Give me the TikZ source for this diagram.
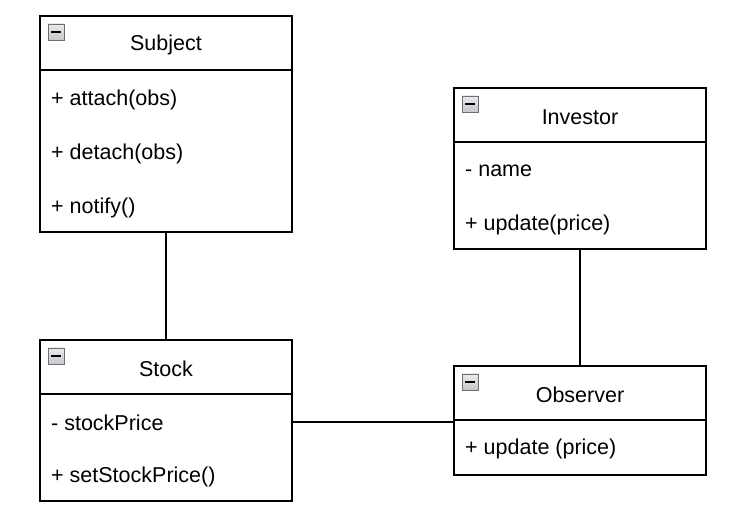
\documentclass[tikz,border=0pt]{standalone}
\usepackage{fontspec}
\setmainfont{Liberation Sans}
\usepackage{tikz}
\usetikzlibrary{positioning, shadings}
\definecolor{iconfill}{RGB}{200, 200, 204}
\definecolor{iconedge}{RGB}{110, 110, 118}

\tikzset{
  classhead/.style={draw, line width=1.8pt, minimum width=252pt, minimum height=54pt,
                    inner sep=0pt},
  classbody/.style={draw, line width=1.8pt, minimum width=252pt, inner sep=0pt},
  classname/.style={inner sep=0pt, yshift=-2pt, font=\fontsize{21.5}{25}\selectfont},
  member/.style={anchor=west, inner sep=0pt, yshift=-3pt, font=\fontsize{21.5}{25}\selectfont},
  minusicon/.style={draw=iconedge, line width=0.8pt, minimum size=16pt, inner sep=0pt,
                    top color=iconfill!40, bottom color=iconfill,
                    path picture={\draw[line width=2pt, black]
                      ([xshift=3pt]path picture bounding box.west) --
                      ([xshift=-3pt]path picture bounding box.east);}},
  link/.style={line width=1.8pt}
}

\begin{document}
\begin{tikzpicture}[x=1pt, y=-1pt]
  \useasboundingbox[fill=white] (0, 0) rectangle (736, 510);

  % Subject
  \node[classhead] (subjectHead) at (166, 43) {};
  \node[classname] (subjectName) at (subjectHead) {Subject};
  \node[classbody, minimum height=162pt] (subjectBody) at (166, 151) {};
  \node[minusicon] (subjectIcon) at (56, 32) {};
  \node[member] (subjectAttach) at (51, 97) {+ attach(obs)};
  \node[member] (subjectDetach) at (51, 151) {+ detach(obs)};
  \node[member] (subjectNotify) at (51, 205) {+ notify()};

  % Investor
  \node[classhead] (investorHead) at (580, 115) {};
  \node[classname] (investorName) at (investorHead) {Investor};
  \node[classbody, minimum height=107pt] (investorBody) at (580, 195.5) {};
  \node[minusicon] (investorIcon) at (470, 104) {};
  \node[member] (investorField) at (465, 168) {- name};
  \node[member] (investorUpdate) at (465, 222) {+ update(price)};

  % Stock
  \node[classhead] (stockHead) at (166, 367) {};
  \node[classname] (stockName) at (stockHead) {Stock};
  \node[classbody, minimum height=107pt] (stockBody) at (166, 447.5) {};
  \node[minusicon] (stockIcon) at (56, 356) {};
  \node[member] (stockPrice) at (51, 420) {- stockPrice};
  \node[member] (stockSet) at (51, 474) {+ setStockPrice()};

  % Observer
  \node[classhead] (observerHead) at (580, 393) {};
  \node[classname] (observerName) at (observerHead) {Observer};
  \node[classbody, minimum height=55pt] (observerBody) at (580, 447.5) {};
  \node[minusicon] (observerIcon) at (470, 382) {};
  \node[member] (observerUpdate) at (465, 446) {+ update (price)};

  % links
  \coordinate (obsJoin) at ([yshift=-3pt]observerBody.north west);
  \draw[link] (subjectBody.south) -- (stockHead.north);
  \draw[link] (investorBody.south) -- (observerHead.north);
  \draw[link] (obsJoin -| stockBody.east) -- (obsJoin);
\end{tikzpicture}
\end{document}
